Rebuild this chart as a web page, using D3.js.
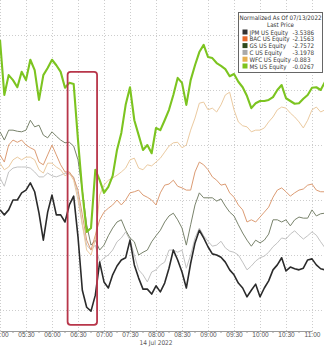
<!DOCTYPE html>
<html>
<head>
<meta charset="utf-8">
<script src="https://cdn.jsdelivr.net/npm/d3@7"></script>
<style>
  body { margin: 0; background: #fff; }
  svg { display: block; font-family: "DejaVu Sans Condensed", "Liberation Sans Narrow", "Arial Narrow", sans-serif; }
</style>
</head>
<body>
<svg id="chart" width="324" height="347"></svg>
<script>
// 14 Jul 2022, normalized % change vs 07/13 close, one reading every 5 minutes from 05:00
const startTime = "05:00";
const stepMinutes = 5;

const jpmValues = [-2.18,-2.27,-2.18,-2.00,-2.00,-1.87,-1.82,-1.69,-1.85,-2.24,-2.73,-2.22,-1.91,-2.27,-2.27,-2.40,-2.09,-1.93,
  -2.67,-3.64,-3.95,-4.02,-3.73,-3.13,-3.49,-3.60,-3.36,-3.20,-3.09,-3.05,-2.73,-3.18,-3.42,-3.62,-3.62,-3.71,-3.56,-3.67,
  -3.51,-3.24,-2.91,-3.09,-3.31,-3.60,-3.15,-2.78,-2.55,-2.69,-2.85,-2.98,-3.00,-3.04,-3.13,-3.27,-3.36,-3.51,-3.60,-3.76,
  -3.64,-3.53,-3.76,-3.60,-3.47,-3.27,-3.18,-3.05,-3.29,-3.22,-3.25,-3.27,-3.24,-3.09,-3.07,-3.18,-3.25,-3.27];
const bacValues = [-1.18,-1.31,-1.00,-0.91,-0.95,-0.91,-1.00,-1.05,-1.09,-1.31,-1.36,-1.18,-1.00,-1.18,-1.36,-1.49,-1.49,-1.60,
  -1.82,-2.27,-2.73,-2.91,-2.64,-2.36,-2.22,-2.15,-2.09,-2.00,-2.09,-2.00,-1.87,-1.85,-1.82,-1.91,-1.95,-2.00,-2.09,-1.87,
  -1.73,-1.71,-1.64,-1.75,-1.78,-1.82,-1.82,-1.49,-1.31,-1.36,-1.45,-1.58,-1.64,-1.73,-1.71,-1.87,-1.95,-2.09,-2.18,-2.40,
  -2.36,-2.40,-2.31,-2.22,-2.13,-1.95,-1.82,-1.78,-1.85,-1.93,-1.87,-1.82,-1.80,-1.73,-1.71,-1.82,-1.85,-1.85];
const gsValues = [-0.76,-0.91,-0.73,-0.73,-0.75,-0.76,-0.73,-0.55,-0.67,-0.64,-0.82,-0.87,-0.76,-0.84,-0.91,-0.96,-0.95,-1.02,
  -1.27,-1.82,-2.45,-2.82,-2.73,-2.91,-2.82,-2.65,-2.51,-2.40,-2.36,-2.55,-2.69,-2.76,-3.00,-2.95,-2.91,-2.76,-2.65,-2.55,
  -2.40,-2.29,-2.24,-2.36,-2.51,-2.82,-2.45,-2.09,-1.87,-1.96,-1.96,-1.96,-2.02,-1.98,-2.11,-2.22,-2.29,-2.45,-2.60,-2.73,
  -2.84,-2.73,-2.78,-2.73,-2.62,-2.36,-2.36,-2.40,-2.36,-2.47,-2.36,-2.31,-2.33,-2.33,-2.18,-2.29,-2.25,-2.24];
const cValues = [-1.60,-1.75,-1.49,-1.42,-1.40,-1.40,-1.40,-1.42,-1.49,-1.58,-1.58,-1.51,-1.56,-1.58,-1.55,-1.51,-1.53,-1.58,
  -1.91,-2.45,-2.82,-2.91,-2.82,-3.13,-3.05,-3.00,-2.91,-2.76,-2.69,-2.58,-2.73,-3.00,-3.27,-3.36,-3.49,-3.31,-3.27,-3.18,
  -3.13,-2.91,-2.91,-2.95,-2.91,-3.24,-3.00,-2.69,-2.51,-2.65,-2.75,-2.84,-2.82,-2.75,-2.87,-2.93,-2.95,-3.00,-3.13,-3.27,
  -3.20,-3.11,-3.05,-3.02,-2.95,-2.85,-2.78,-2.69,-2.71,-2.62,-2.56,-2.64,-2.71,-2.65,-2.58,-2.64,-2.76,-2.87];
const wfcValues = [-1.33,-1.45,-1.40,-1.27,-1.22,-1.27,-1.22,-1.22,-1.27,-1.45,-1.51,-1.33,-1.33,-1.40,-1.45,-1.56,-1.51,-1.64,
  -2.00,-2.45,-2.91,-3.00,-2.73,-1.91,-1.73,-1.64,-1.60,-1.55,-1.49,-1.42,-1.27,-1.24,-1.42,-1.45,-1.36,-1.38,-1.31,-1.24,
  -1.13,-1.02,-0.96,-0.95,-1.05,-1.00,-0.73,-0.51,-0.24,-0.22,-0.36,-0.33,-0.40,-0.27,-0.09,-0.04,-0.36,-0.58,-0.65,-0.67,
  -0.76,-0.73,-0.73,-0.69,-0.58,-0.49,-0.36,-0.31,-0.33,-0.42,-0.49,-0.58,-0.69,-0.55,-0.36,-0.31,-0.40,-0.36];
const msValues = [0.91,-0.09,0.27,0.18,0.05,0.33,0.18,0.55,0.36,-0.18,0.27,0.40,0.55,0.45,0.33,0.04,0.13,0.11,
  -0.91,-1.85,-2.58,-2.51,-1.45,-1.64,-1.87,-1.76,-1.56,-1.09,-0.78,-0.27,0.05,-0.55,-0.82,-1.09,-1.00,-1.15,-0.69,-0.73,
  -0.55,-0.36,-0.09,0.22,0.13,-0.27,0.18,0.45,0.69,0.82,0.60,0.58,0.49,0.44,0.38,0.25,0.29,0.15,0.05,-0.11,
  -0.33,-0.24,-0.20,-0.20,-0.18,-0.13,0.00,0.09,-0.15,-0.20,-0.25,-0.24,-0.16,-0.09,0.04,0.05,0.00,0.15];

const seriesNames = ["JPM US Equity", "BAC US Equity", "GS US Equity", "C US Equity", "WFC US Equity", "MS US Equity"];
const lastPrices = ["-3.5386", "-2.1563", "-2.7572", "-3.1978", "-0.883", "-0.0267"];
const swatchColors = ["#333333", "#e8692a", "#2f4a1c", "#a9a9a9", "#e7b04f", "#7fc31c"];
const lineColors = ["#2b2b2b", "#dc9c74", "#79836c", "#c2c2c2", "#ebcaa0", "#7cc420"];
const lineWidths = [1.6, 1, 1, 1, 1, 2.1];

const tickTimes = ["05:00","05:30","06:00","06:30","07:00","07:30","08:00","08:30","09:00","09:30","10:00","10:30","11:00"];
const gridValues = [1, 0, -1, -2, -3, -4];
const dateLabel = "14 Jul 2022";
const legendTitle = ["Normalized As Of 07/13/2022", "Last Price"];
const highlight = { from: "06:18", to: "06:52", top: 0.33, bottom: -4.27 };

const parseTime = s => { const p = s.split(":"); return new Date(2022, 6, 14, +p[0], +p[1]); };
const t0 = parseTime(startTime);
const timeAt = i => new Date(t0.getTime() + i * stepMinutes * 60000);

const svg = d3.select("#chart");
const plotBottom = 331;

const x = d3.scaleTime()
  .domain([parseTime("05:00"), parseTime("11:00")])
  .range([0, 312]);
const y = d3.scaleLinear()
  .domain([-4, 1])
  .range([310, 35]);

svg.append("defs").append("clipPath").attr("id", "plot")
  .append("rect").attr("x", 0).attr("y", 0).attr("width", 324).attr("height", plotBottom);

// grid
const grid = svg.append("g").attr("stroke", "#cdcdcd").attr("stroke-dasharray", "1,2");
grid.selectAll("line.v")
  .data(tickTimes.map(parseTime))
  .enter().append("line")
    .attr("x1", d => x(d) + 0.5).attr("x2", d => x(d) + 0.5)
    .attr("y1", 0).attr("y2", plotBottom);
grid.selectAll("line.h")
  .data(gridValues)
  .enter().append("line")
    .attr("x1", 0).attr("x2", 324)
    .attr("y1", d => Math.round(y(d)) + 0.5).attr("y2", d => Math.round(y(d)) + 0.5);

// lines, thin ones first
const allSeries = [jpmValues, bacValues, gsValues, cValues, wfcValues, msValues];
const drawOrder = [3, 2, 4, 1, 0, 5];

const line = d3.line()
  .x((d, i) => x(timeAt(i)))
  .y(d => y(d));

const lines = svg.append("g").attr("clip-path", "url(#plot)");
drawOrder.forEach(function(s) {
  lines.append("path")
    .datum(allSeries[s])
    .attr("fill", "none")
    .attr("stroke", lineColors[s])
    .attr("stroke-width", lineWidths[s])
    .attr("stroke-linejoin", "round")
    .attr("d", line);
});

// red box around the JPM earnings drop
svg.append("rect")
  .attr("x", x(parseTime(highlight.from)))
  .attr("y", y(highlight.top))
  .attr("width", x(parseTime(highlight.to)) - x(parseTime(highlight.from)))
  .attr("height", y(highlight.bottom) - y(highlight.top))
  .attr("rx", 3)
  .attr("fill", "none")
  .attr("stroke", "#b8364a")
  .attr("stroke-width", 1.8);

// x axis
const xAxis = d3.axisBottom(x)
  .tickValues(tickTimes.map(parseTime))
  .tickFormat(d3.timeFormat("%H:%M"))
  .tickSize(0)
  .tickPadding(1);

const axis = svg.append("g")
  .attr("transform", "translate(0," + plotBottom + ")")
  .call(xAxis);
axis.select(".domain").attr("stroke", "#9a9a9a");
axis.selectAll("text").attr("fill", "#555").style("font-size", "6.5px");

// small ticks at the quarter hours
axis.selectAll("line.minor")
  .data(tickTimes.map(d => new Date(parseTime(d).getTime() + 15 * 60000)))
  .enter().append("line")
    .attr("x1", d => x(d)).attr("x2", d => x(d))
    .attr("y1", 0).attr("y2", 2)
    .attr("stroke", "#9a9a9a");

svg.append("text")
  .attr("x", x(parseTime("08:00")))
  .attr("y", 345)
  .attr("text-anchor", "middle")
  .attr("fill", "#555")
  .style("font-size", "6.5px")
  .text(dateLabel);

// legend
const legend = svg.append("g").attr("transform", "translate(238.5,12.5)");
legend.append("rect")
  .attr("width", 84).attr("height", 60)
  .attr("fill", "#fff").attr("stroke", "#666");
legend.selectAll("text.title")
  .data(legendTitle)
  .enter().append("text")
    .attr("x", 42).attr("y", (d, i) => 7.5 + i * 7)
    .attr("text-anchor", "middle")
    .attr("fill", "#333")
    .style("font-size", "6.2px")
    .text(d => d);

const rows = legend.selectAll("g.row")
  .data(seriesNames)
  .enter().append("g")
    .attr("transform", (d, i) => "translate(0," + (17 + i * 6.8) + ")");
rows.append("rect")
  .attr("x", 4).attr("y", 0).attr("width", 5).attr("height", 5)
  .attr("fill", (d, i) => swatchColors[i]);
rows.append("text")
  .attr("x", 11).attr("y", 5)
  .attr("fill", "#333")
  .style("font-size", "6.2px")
  .text(d => d);
rows.append("text")
  .attr("x", 54).attr("y", 5)
  .attr("fill", "#333")
  .style("font-size", "6.2px")
  .text((d, i) => lastPrices[i]);
</script>
</body>
</html>
